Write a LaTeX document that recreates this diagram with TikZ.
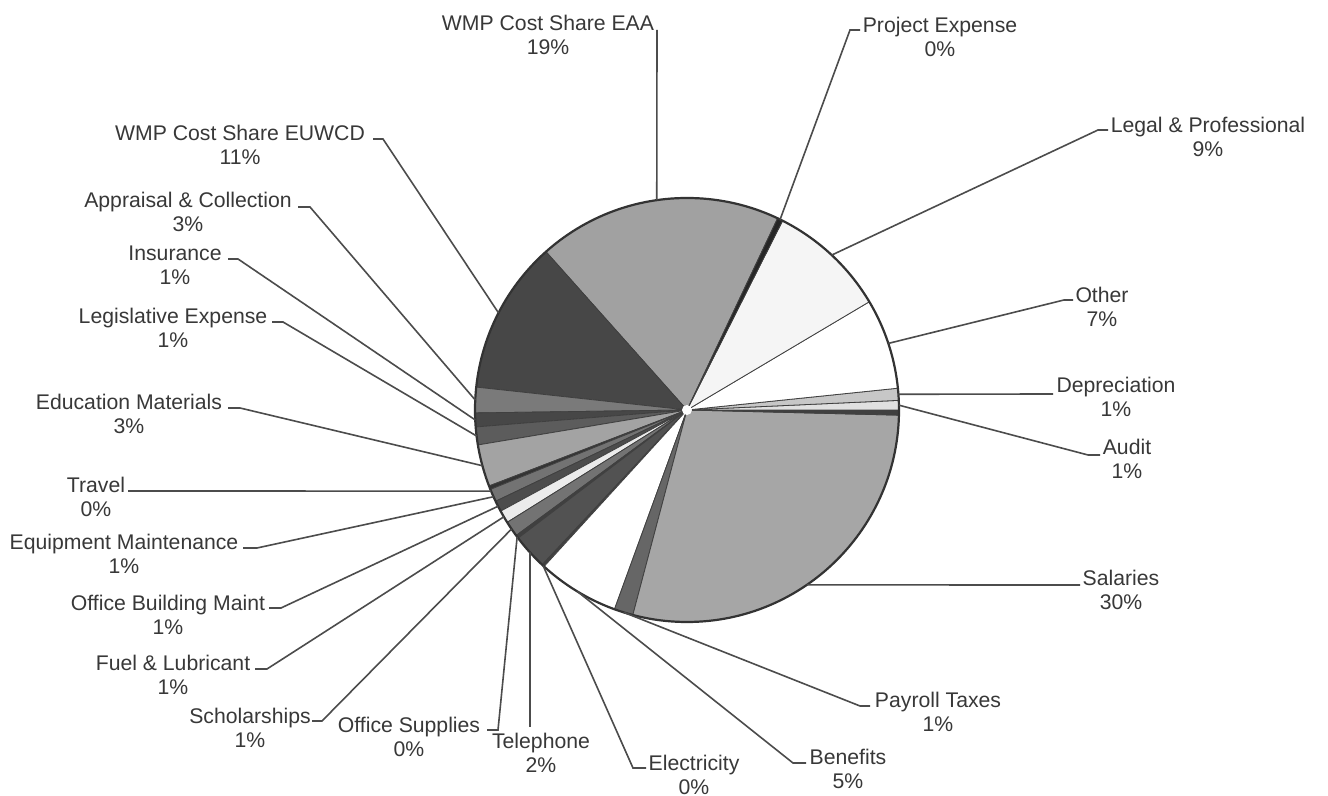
\documentclass[tikz,border=0pt]{standalone}
\usepackage{fontspec}
\setmainfont{Liberation Sans}
\usetikzlibrary{calc}
\begin{document}
\begin{tikzpicture}[x=0.5pt,y=0.5pt,
  slice/.style={draw=black!75,line width=0.4pt},
  rim/.style={draw=black!80,line width=1.1pt},
  leader/.style={draw=black!70,line width=0.8pt},
  lbl/.style={align=center,inner sep=0pt,text=black!78,
    font=\fontsize{10.6}{12}\selectfont}]
\useasboundingbox[fill=white] (0,0) rectangle (1328,796);
\coordinate (C) at (687,386);
% slices: start/end angle/fill
\foreach \a/\b/\f in {64.7/131.7/black!37, 131.7/173.8/black!72, 173.8/180.8/black!52,
  180.8/184.6/black!72, 184.6/189.5/black!64, 189.5/201.0/black!36, 201.0/202.0/black!80,
  202.0/205.5/black!55, 205.5/208.5/black!70, 208.5/212.0/black!8, 212.0/216.3/black!55,
  216.3/217.2/black!75, 217.2/226.9/black!68, 226.9/227.6/black!75, 227.6/250/white,
  250/255.2/black!60, 255.2/358.6/black!35, 358.6/360/black!75, 0/2.6/black!12,
  2.6/5.9/black!22, 5.9/30.7/white, 30.7/63.2/black!4, 63.2/64.7/black!85}
  \filldraw[slice,fill=\f] (C) -- ($(C)+(\a:106pt)$) arc[start angle=\a,end angle=\b,radius=106pt] -- cycle;
\draw[rim] (C) circle[radius=106pt];
\fill[white] (C) circle[radius=2.5pt];

% pie points
\foreach \n/\m in {EAA/98.2, Proj/63.95, Legal/46.95, Other/18.3, Dep/4.25, Audit/1.3,
  Sal/304.4, Pay/252.6, Ben/238.8, Elec/227.25, Tel/222.2, Sup/216.75, Sch/214.15,
  Fuel/210.25, Bldg/207, Equip/204.15, Trav/202.5, Edu/195.25, Leg/187.05, Ins/182.7,
  App/177.3, EUW/152.75}
  \coordinate (p\n) at ($(C)+(\m:106pt)$);

% labels (y = 796 - pixel y)
\node[lbl] (lEAA)   at (548,761) {WMP Cost Share EAA\\19\%};
\node[lbl] (lProj)  at (940,759) {Project Expense\\0\%};
\node[lbl] (lLegal) at (1208,659) {Legal \& Professional\\9\%};
\node[lbl] (lOther) at (1102,489) {Other\\7\%};
\node[lbl] (lDep)   at (1116,399) {Depreciation\\1\%};
\node[lbl] (lAudit) at (1127,337) {Audit\\1\%};
\node[lbl] (lSal)   at (1121,206) {Salaries\\30\%};
\node[lbl] (lPay)   at (938,84) {Payroll Taxes\\1\%};
\node[lbl] (lBen)   at (848,27) {Benefits\\5\%};
\node[lbl] (lElec)  at (694,21) {Electricity\\0\%};
\node[lbl] (lTel)   at (541,43) {Telephone\\2\%};
\node[lbl] (lSup)   at (409,59) {Office Supplies\\0\%};
\node[lbl] (lSch)   at (250,68) {Scholarships\\1\%};
\node[lbl] (lFuel)  at (173,121) {Fuel \& Lubricant\\1\%};
\node[lbl] (lBldg)  at (168,181) {Office Building Maint\\1\%};
\node[lbl] (lEquip) at (124,242) {Equipment Maintenance\\1\%};
\node[lbl] (lTrav)  at (96,299) {Travel\\0\%};
\node[lbl] (lEdu)   at (129,382) {Education Materials\\3\%};
\node[lbl] (lLeg)   at (173,468) {Legislative Expense\\1\%};
\node[lbl] (lIns)   at (175,531) {Insurance\\1\%};
\node[lbl] (lApp)   at (188,584) {Appraisal \& Collection\\3\%};
\node[lbl] (lEUW)   at (240,651) {WMP Cost Share EUWCD\\11\%};

% leader ends
\coordinate (eEAA) at (657,766);
\coordinate (kProj) at (850,766);  \coordinate (eProj) at (860,766);
\coordinate (kLegal) at (1098,666); \coordinate (eLegal) at (1108,666);
\coordinate (kOther) at (1064,496); \coordinate (eOther) at (1073,496);
\coordinate (eDep) at (1053,402);
\coordinate (kAudit) at (1088,341); \coordinate (eAudit) at (1100,341);
\coordinate (eSal) at (1080,211);
\coordinate (kPay) at (860,90);  \coordinate (ePay) at (870,90);
\coordinate (kBen) at (793,33);  \coordinate (eBen) at (806,33);
\coordinate (kElec) at (633,28); \coordinate (eElec) at (646,28);
\coordinate (eTel) at (530,69);
\coordinate (kSup) at (498,66);  \coordinate (eSup) at (487,66);
\coordinate (kSch) at (322,75);  \coordinate (eSch) at (312,75);
\coordinate (kFuel) at (267,127); \coordinate (eFuel) at (255,127);
\coordinate (kBldg) at (281,188); \coordinate (eBldg) at (269,188);
\coordinate (kEquip) at (257,248); \coordinate (eEquip) at (243,248);
\coordinate (eTrav) at (128,305);
\coordinate (kEdu) at (240,388); \coordinate (eEdu) at (228,388);
\coordinate (kLeg) at (283,474); \coordinate (eLeg) at (272,474);
\coordinate (kIns) at (238,537); \coordinate (eIns) at (228,537);
\coordinate (kApp) at (310,589); \coordinate (eApp) at (298,589);
\coordinate (kEUW) at (383,657); \coordinate (eEUW) at (373,657);

\draw[leader] (pEAA) -- (eEAA);
\draw[leader] (pProj) -- (kProj) -- (eProj);
\draw[leader] (pLegal) -- (kLegal) -- (eLegal);
\draw[leader] (pOther) -- (kOther) -- (eOther);
\draw[leader] (pDep) -- (eDep);
\draw[leader] (pAudit) -- (kAudit) -- (eAudit);
\draw[leader] (pSal) -- (eSal);
\draw[leader] (pPay) -- (kPay) -- (ePay);
\draw[leader] (pBen) -- (kBen) -- (eBen);
\draw[leader] (pElec) -- (kElec) -- (eElec);
\draw[leader] (pTel) -- (eTel);
\draw[leader] (pSup) -- (kSup) -- (eSup);
\draw[leader] (pSch) -- (kSch) -- (eSch);
\draw[leader] (pFuel) -- (kFuel) -- (eFuel);
\draw[leader] (pBldg) -- (kBldg) -- (eBldg);
\draw[leader] (pEquip) -- (kEquip) -- (eEquip);
\draw[leader] (pTrav) -- (eTrav);
\draw[leader] (pEdu) -- (kEdu) -- (eEdu);
\draw[leader] (pLeg) -- (kLeg) -- (eLeg);
\draw[leader] (pIns) -- (kIns) -- (eIns);
\draw[leader] (pApp) -- (kApp) -- (eApp);
\draw[leader] (pEUW) -- (kEUW) -- (eEUW);
\end{tikzpicture}
\end{document}
